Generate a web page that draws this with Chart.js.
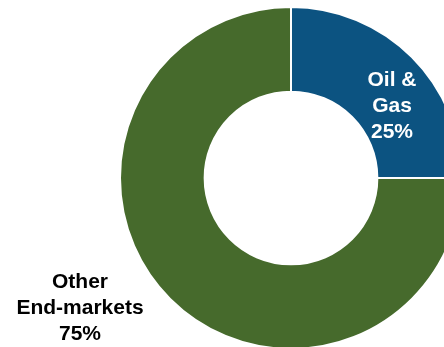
<!DOCTYPE html>
<html>
<head>
<meta charset="utf-8">
<script src="https://cdn.jsdelivr.net/npm/chart.js@4"></script>
<style>
    html, body { margin: 0; padding: 0; background: #ffffff; overflow: hidden; }
    #wrap { position: absolute; left: 0; top: 0; width: 463px; height: 350px; }
</style>
</head>
<body>
<div id="wrap"><canvas id="mixChart" width="463" height="350"></canvas></div>
<script>
// End-market split
const segments = ['Oil & Gas', 'Other End-markets'];
const shares = [25, 75];
const segmentColors = ['#0c5381', '#466a2c'];
const labelLines = [['Oil &', 'Gas', '25%'], ['Other', 'End-markets', '75%']];

// Label anchor offsets from the ring centre, and text colour per segment
const labelOffsets = [[101, -72], [-211, 130]];
const labelColors = ['#ffffff', '#000000'];

const segmentLabels = {
    id: 'segmentLabels',
    afterDatasetsDraw(chart) {
        const ctx = chart.ctx;
        const arcs = chart.getDatasetMeta(0).data;
        ctx.save();
        ctx.font = 'bold 21px "Liberation Sans", Arial, sans-serif';
        ctx.textAlign = 'center';
        ctx.textBaseline = 'middle';
        arcs.forEach(function (arc, i) {
            const cx = arc.x + labelOffsets[i][0];
            const cy = arc.y + labelOffsets[i][1];
            const lines = labelLines[i];
            const lineHeight = 26;
            ctx.fillStyle = labelColors[i];
            lines.forEach(function (line, j) {
                const y = cy + (j - (lines.length - 1) / 2) * lineHeight;
                ctx.fillText(line, cx, y);
            });
        });
        ctx.restore();
    }
};

new Chart(document.getElementById('mixChart').getContext('2d'), {
    type: 'doughnut',
    data: {
        labels: segments,
        datasets: [{
            data: shares,
            backgroundColor: segmentColors,
            borderColor: '#ffffff',
            borderWidth: 2,
            hoverOffset: 0
        }]
    },
    options: {
        responsive: false,
        animation: false,
        cutout: '50.5%',
        layout: { padding: { left: 119, top: 6, right: 0, bottom: 0 } },
        plugins: {
            legend: { display: false },
            tooltip: { enabled: false }
        }
    },
    plugins: [segmentLabels]
});
</script>
</body>
</html>
